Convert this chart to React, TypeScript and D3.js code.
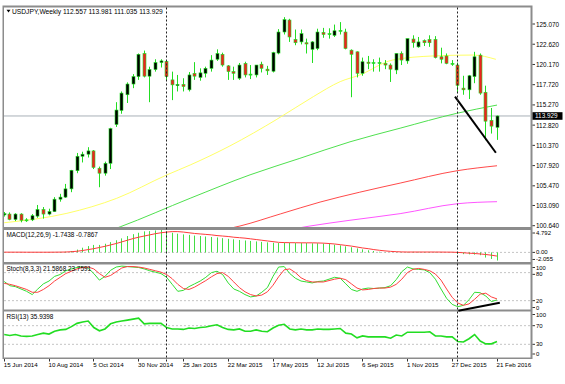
import React from "react"
import * as d3 from "d3"

const W = 565
const H = 384

// weekly USDJPY bars, 15 Jun 2014 .. 21 Feb 2016
const opens = [101.95, 102.05, 101.4, 102.05, 101.3, 101.35, 101.8, 102.6, 102.05, 102.35, 103.85, 104.1, 105.1, 107.3, 109.05, 109.3, 109.7, 107.6, 107.0, 108.2, 112.9, 114.6, 116.5, 117.8, 118.7, 121.5, 118.75, 119.55, 120.4, 120.55, 118.3, 117.6, 117.75, 117.1, 119.1, 118.6, 119.1, 119.7, 120.8, 121.4, 120.0, 119.3, 118.5, 120.3, 118.95, 118.9, 120.2, 119.6, 119.35, 121.55, 124.1, 125.55, 123.2, 122.9, 122.8, 122.0, 122.1, 124.05, 123.8, 123.7, 124.2, 124.1, 121.9, 121.7, 119.1, 120.45, 120.3, 120.4, 120.3, 120.1, 119.5, 121.5, 120.6, 123.25, 122.3, 123.05, 123.2, 123.2, 121.1, 121.2, 120.3, 120.1, 117.3, 117.1, 118.7, 121.3, 116.8, 113.4, 112.557]
const highs = [102.3, 102.25, 102.15, 102.15, 101.55, 102.05, 103.15, 102.9, 102.7, 104.1, 104.5, 105.7, 107.4, 109.45, 109.6, 110.15, 109.8, 107.8, 108.4, 112.5, 115.6, 116.9, 118.0, 119.0, 121.5, 121.85, 119.9, 120.8, 120.8, 120.7, 119.3, 118.9, 118.5, 119.25, 120.45, 119.7, 119.9, 121.3, 122.0, 121.6, 120.1, 119.9, 120.35, 120.5, 120.1, 120.1, 120.5, 120.0, 121.7, 124.45, 125.9, 125.7, 124.4, 124.4, 123.3, 123.0, 124.5, 124.6, 124.55, 125.0, 125.3, 124.5, 122.0, 121.75, 121.0, 121.2, 120.8, 121.0, 120.7, 120.3, 121.5, 121.75, 123.3, 123.7, 123.5, 123.2, 123.7, 123.6, 122.2, 121.5, 120.7, 120.4, 118.8, 118.9, 121.7, 121.5, 117.6, 114.9, 113.981]
const lows = [101.75, 101.3, 101.2, 101.05, 101.1, 101.2, 101.6, 101.5, 101.9, 102.3, 103.55, 104.0, 104.7, 107.0, 108.3, 108.9, 107.5, 105.3, 106.7, 107.5, 112.6, 114.2, 115.5, 117.3, 118.3, 118.6, 115.6, 119.3, 119.8, 118.3, 115.85, 116.9, 116.9, 116.9, 118.3, 118.2, 118.6, 119.3, 120.6, 119.9, 118.3, 118.3, 118.3, 118.6, 118.4, 118.6, 119.2, 118.9, 119.2, 121.4, 123.8, 122.9, 122.5, 122.6, 121.5, 120.35, 121.9, 123.4, 123.3, 123.5, 123.8, 122.0, 116.2, 118.6, 118.8, 119.6, 119.3, 119.3, 119.6, 118.05, 119.0, 120.1, 120.25, 122.2, 122.2, 122.4, 122.3, 120.9, 120.3, 120.2, 120.0, 116.7, 116.5, 115.98, 117.9, 116.5, 111.0, 111.8, 111.035]
const closes = [102.1, 101.4, 102.05, 101.3, 101.35, 101.85, 102.6, 102.05, 102.35, 103.85, 104.1, 105.1, 107.35, 109.05, 109.3, 109.7, 107.7, 107.0, 108.2, 112.4, 114.65, 116.7, 117.8, 118.7, 121.4, 118.75, 119.55, 120.4, 120.6, 118.7, 117.7, 117.75, 117.5, 118.9, 118.75, 119.15, 119.7, 120.7, 121.5, 120.1, 119.3, 119.1, 120.1, 118.9, 119.0, 120.1, 119.7, 119.4, 121.6, 124.1, 125.6, 123.5, 122.8, 123.9, 122.65, 122.9, 124.1, 123.8, 123.9, 124.25, 124.3, 122.1, 121.4, 119.1, 120.5, 120.3, 120.4, 120.3, 120.1, 119.6, 121.5, 120.7, 123.3, 122.8, 122.9, 122.8, 122.8, 121.0, 120.8, 120.3, 120.2, 117.65, 117.1, 118.8, 121.1, 116.7, 113.3, 112.7, 113.929]

// moving averages as [bar, price]
const maYellow: [number, number][] = [[0, 101.0], [11.2, 102.14], [20.1, 103.96], [29, 106.78], [33.2, 107.99], [40.3, 110.3], [48.7, 113.53], [55.2, 116.27], [60, 118.09], [63.5, 118.9], [69.4, 120.71], [76.6, 121.2], [83.7, 121.31], [87.8, 120.79]]
const maGreen: [number, number][] = [[17, 99.6], [20.7, 100.5], [33.2, 103.96], [43.9, 106.8], [52.8, 108.8], [61.75, 110.8], [70.7, 112.45], [80.8, 114.25], [88, 115.25]]
const maRed: [number, number][] = [[38, 100.0], [42.1, 100.6], [49.3, 102.06], [56.4, 103.5], [63.5, 104.7], [70.7, 105.8], [80.9, 107.3], [88, 107.9]]
const maMagenta: [number, number][] = [[52, 100.3], [54.6, 100.6], [61.75, 101.3], [70.7, 102.1], [80.9, 103.3], [88, 103.55]]

const trendMain: [number, number][] = [[80.5, 116.27], [87.8, 109.48]]
const trendStoch: [number, number][] = [[81.1, -1.5], [88.5, 15.6]]

const macdMain = [0.05, 0.04, 0.03, 0.02, 0.01, 0.01, 0.02, 0.03, 0.03, 0.06, 0.1, 0.15, 0.3, 0.6, 1.0, 1.35, 1.6, 1.6, 1.85, 2.2, 2.6, 3.0, 3.5, 3.9, 4.2, 4.5, 4.55, 4.7, 4.79, 4.5, 4.2, 4.0, 3.85, 3.75, 3.6, 3.5, 3.4, 3.3, 3.2, 3.05, 2.9, 2.8, 2.65, 2.55, 2.45, 2.35, 2.25, 2.15, 2.05, 2.0, 2.05, 2.05, 2.0, 2.0, 2.0, 1.95, 1.95, 1.9, 1.8, 1.65, 1.5, 1.3, 1.1, 0.85, 0.65, 0.45, 0.3, 0.15, 0.05, 0.02, 0.04, 0.05, 0.1, 0.12, 0.12, 0.1, 0.1, 0.08, 0.05, 0.03, 0.02, -0.3, -0.38, -0.42, -0.48, -0.6, -1.1, -1.4, -1.7438]
const macdSignal = [0.05, 0.05, 0.05, 0.05, 0.04, 0.04, 0.04, 0.04, 0.04, 0.05, 0.06, 0.08, 0.15, 0.25, 0.4, 0.6, 0.8, 1.05, 1.3, 1.6, 1.9, 2.25, 2.6, 2.95, 3.25, 3.5, 3.75, 4.0, 4.2, 4.35, 4.45, 4.45, 4.35, 4.2, 4.05, 3.95, 3.85, 3.75, 3.6, 3.5, 3.4, 3.25, 3.15, 3.05, 2.9, 2.75, 2.6, 2.45, 2.3, 2.15, 2.1, 2.08, 2.07, 2.05, 2.05, 2.05, 2.02, 1.98, 1.9, 1.8, 1.65, 1.5, 1.35, 1.15, 0.95, 0.8, 0.6, 0.45, 0.32, 0.22, 0.15, 0.1, 0.08, 0.08, 0.08, 0.08, 0.08, 0.08, 0.07, 0.06, 0.05, 0.0, -0.08, -0.16, -0.24, -0.33, -0.45, -0.6, -0.7867]

const stochK = [61, 52, 50, 45, 40, 33, 45, 56, 62, 72, 76, 84, 88, 91, 92, 90, 78, 64, 72, 85, 92, 94, 93, 92, 91, 88, 84, 81, 78, 70, 55, 40, 42, 50, 56, 62, 70, 80, 83, 76, 58, 45, 40, 33, 28, 30, 38, 48, 72, 92, 93, 78, 68, 62, 60, 58, 61, 62, 66, 70, 68, 56, 44, 40, 45, 47, 46, 47, 48, 52, 65, 82, 92, 88, 87, 86, 80, 66, 45, 25, 12, 7, 10, 22, 38, 37, 30, 18, 21.5868]
const stochD = [57, 55, 52, 48, 44, 38, 38, 44, 52, 62, 70, 78, 83, 88, 91, 92, 88, 78, 70, 74, 82, 90, 93, 93, 92, 90, 87, 84, 81, 76, 67, 55, 46, 44, 49, 56, 63, 71, 78, 80, 72, 60, 48, 39, 33, 30, 32, 39, 53, 71, 86, 88, 80, 69, 63, 60, 60, 60, 63, 66, 68, 65, 56, 47, 43, 44, 46, 47, 47, 49, 55, 66, 80, 87, 89, 87, 84, 77, 64, 45, 27, 15, 10, 13, 23, 34, 36, 28, 23.7591]
const rsi = [51, 49, 51, 48, 47, 48, 51, 54, 52, 58, 61, 62, 68, 75, 78, 80, 66, 59, 63, 74, 78, 80, 82, 84, 86, 74, 75, 75, 75, 66, 63, 63, 62, 65, 64, 66, 67, 70, 72, 66, 62, 61, 63, 58, 58, 61, 58, 57, 65, 71, 73, 63, 61, 63, 61, 61, 63, 62, 62, 63, 64, 54, 52, 44, 48, 46, 46, 46, 46, 43, 50, 48, 56, 56, 56, 56, 57, 48, 48, 46, 46, 36, 35, 42, 51, 37, 31, 31, 35.9398]

const dateLabels = ["15 Jun 2014", "10 Aug 2014", "5 Oct 2014", "30 Nov 2014", "25 Jan 2015", "22 Mar 2015", "17 May 2015", "12 Jul 2015", "6 Sep 2015", "1 Nov 2015", "27 Dec 2015", "21 Feb 2016"]
const priceTicks = [125.07, 122.62, 120.17, 117.72, 115.27, 112.82, 110.37, 107.92, 105.47, 103.09, 100.64]
const macdTicks = [4.792, 0, -2.055]
const macdTickText = ["4.792", "0.00", "-2.055"]
const stochTicks = [100, 80, 20, 0]
const rsiTicks = [100, 70, 30, 0]
const yearStarts = [29, 81]

const lastPrice = 113.929
const GREEN = "#22dd22"
const RED = "#ee2222"
const FONT = '"Liberation Sans", Arial, sans-serif'

const L = 4
const R = 530.5
const main = { top: 7.5, bottom: 227 }
const macdP = { top: 230, bottom: 262 }
const stochP = { top: 264.5, bottom: 309.5 }
const rsiP = { top: 311.5, bottom: 357.5 }

const x = d3.scaleLinear().domain([0, 88]).range([4.2, 497])
const yMain = d3.scaleLinear().domain([100.64, 125.07]).range([225.7, 24])
const yMacd = d3.scaleLinear().domain([-2.055, 4.792]).range([262, 230])
const yStoch = d3.scaleLinear().domain([0, 100]).range([310, 263.3])
const yRsi = d3.scaleLinear().domain([0, 100]).range([358.3, 311.7])

// label positions: keep inside the panel, then push apart so they never collide
function labelYs(ticks: number[], scale: (v: number) => number, p: { top: number; bottom: number } | null, gap: number) {
  const out: number[] = []
  ticks.forEach((t, i) => {
    let yy = scale(t)
    if (p) yy = Math.max(p.top + 3, Math.min(p.bottom - 3.5, yy))
    if (i > 0 && yy - out[i - 1] < gap) yy = out[i - 1] + gap
    out.push(yy)
  })
  return out
}

function RightLabels({ ticks, texts, scale, panel, size }: any) {
  const ys = labelYs(ticks, scale, panel, size * 1.18)
  return (
    <g>
      {ticks.map((t: number, i: number) => (
        <g key={i}>
          <line x1={532.5} x2={535} y1={ys[i]} y2={ys[i]} stroke="#000" strokeWidth={0.8} />
          <text x={536} y={ys[i]} dominantBaseline="central" fontSize={size} fill="#000">
            {texts[i]}
          </text>
        </g>
      ))}
    </g>
  )
}

export default function App() {
  const maLine = d3
    .line<[number, number]>()
    .x((d) => x(d[0]))
    .y((d) => yMain(d[1]))
    .curve(d3.curveMonotoneX)
  const seriesLine = (scale: d3.ScaleLinear<number, number>) =>
    d3
      .line<number>()
      .x((_, i) => x(i))
      .y((v) => scale(v))

  const fmt = d3.format(".3f")

  return (
    <svg
      width={W}
      height={H}
      style={{ position: "absolute", left: 0, top: 0, background: "#fff" }}
      fontFamily={FONT}
    >
      <defs>
        <clipPath id="cMain">
          <rect x={L} y={main.top} width={R - L} height={main.bottom - main.top} />
        </clipPath>
        <clipPath id="cMacd">
          <rect x={L} y={macdP.top} width={R - L} height={macdP.bottom - macdP.top} />
        </clipPath>
        <clipPath id="cStoch">
          <rect x={L} y={stochP.top} width={R - L} height={stochP.bottom - stochP.top} />
        </clipPath>
        <clipPath id="cRsi">
          <rect x={L} y={rsiP.top} width={R - L} height={rsiP.bottom - rsiP.top} />
        </clipPath>
      </defs>

      {/* frames */}
      <rect x={2.5} y={5.5} width={530} height={353.5} fill="#8c8c8c" />
      {[main, macdP, stochP, rsiP].map((p, i) => (
        <rect key={i} x={L} y={p.top} width={R - L} height={p.bottom - p.top} fill="#fff" />
      ))}

      {/* indicator grid lines */}
      <g stroke="#c4c4c4" strokeDasharray="2,2" strokeWidth={1}>
        <line x1={L} x2={R} y1={yMacd(0)} y2={yMacd(0)} />
        {[80, 20].map((v) => (
          <line key={v} x1={L} x2={R} y1={yStoch(v)} y2={yStoch(v)} />
        ))}
        {[70, 30].map((v) => (
          <line key={v} x1={L} x2={R} y1={yRsi(v)} y2={yRsi(v)} />
        ))}
      </g>

      {/* main panel */}
      <g clipPath="url(#cMain)">
        <line x1={L} x2={R} y1={yMain(lastPrice)} y2={yMain(lastPrice)} stroke="#a9b0b8" strokeWidth={1} />
        <path d={maLine(maMagenta) ?? ""} fill="none" stroke="#ff55ff" strokeWidth={1} />
        <path d={maLine(maRed) ?? ""} fill="none" stroke="#ff4a4a" strokeWidth={1} />
        <path d={maLine(maGreen) ?? ""} fill="none" stroke="#4fe04f" strokeWidth={1} />
        <path d={maLine(maYellow) ?? ""} fill="none" stroke="#ffff66" strokeWidth={1} />
        {opens.map((o, i) => {
          const c = closes[i]
          const px = Math.floor(x(i))
          const top = yMain(Math.max(o, c))
          const bot = yMain(Math.min(o, c))
          return (
            <g key={i}>
              <line x1={px + 0.5} x2={px + 0.5} y1={yMain(highs[i])} y2={yMain(lows[i])} stroke={GREEN} strokeWidth={1} />
              <rect
                x={px - 1}
                y={top}
                width={3}
                height={Math.max(1, bot - top)}
                fill={bot - top < 1 ? GREEN : c >= o ? "#000" : RED}
                stroke={GREEN}
                strokeWidth={0.6}
              />
            </g>
          )
        })}
        <line
          x1={x(trendMain[0][0])}
          y1={yMain(trendMain[0][1])}
          x2={x(trendMain[1][0])}
          y2={yMain(trendMain[1][1])}
          stroke="#000"
          strokeWidth={2}
        />
      </g>

      {/* MACD */}
      <g clipPath="url(#cMacd)">
        {macdMain.map((v, i) => (
          <line
            key={i}
            x1={Math.floor(x(i)) + 0.5}
            x2={Math.floor(x(i)) + 0.5}
            y1={yMacd(0)}
            y2={yMacd(v)}
            stroke="#44dd44"
            strokeWidth={1}
          />
        ))}
        <path d={seriesLine(yMacd)(macdSignal) ?? ""} fill="none" stroke="#ff3b3b" strokeWidth={1} />
      </g>

      {/* Stoch */}
      <g clipPath="url(#cStoch)">
        <path d={seriesLine(yStoch)(stochK) ?? ""} fill="none" stroke="#33dd33" strokeWidth={1} />
        <path d={seriesLine(yStoch)(stochD) ?? ""} fill="none" stroke="#ff4040" strokeWidth={1} />
      </g>
      <line
        x1={x(trendStoch[0][0])}
        y1={yStoch(trendStoch[0][1])}
        x2={x(trendStoch[1][0])}
        y2={yStoch(trendStoch[1][1])}
        stroke="#000"
        strokeWidth={2}
      />

      {/* RSI */}
      <g clipPath="url(#cRsi)">
        <path d={seriesLine(yRsi)(rsi) ?? ""} fill="none" stroke="#22dd22" strokeWidth={1.6} />
      </g>

      {/* year separators */}
      {yearStarts.map((b) => (
        <line
          key={b}
          x1={Math.floor(x(b)) + 0.5}
          x2={Math.floor(x(b)) + 0.5}
          y1={main.top}
          y2={362}
          stroke="#222"
          strokeWidth={1}
          strokeDasharray="2,2"
        />
      ))}

      {/* labels */}
      <path d="M6.5,9.8 L10.5,9.8 L8.5,12.6 Z" fill="#000" />
      <text x={12} y={11.5} dominantBaseline="central" fontSize={6.7} fill="#000">
        USDJPY,Weekly 112.557 113.981 111.035 113.929
      </text>
      <text x={6.5} y={234} dominantBaseline="central" fontSize={6.4} fill="#000">
        MACD(12,26,9) -1.7438 -0.7867
      </text>
      <text x={6.5} y={268.5} dominantBaseline="central" fontSize={6.4} fill="#000">
        Stoch(8,3,3) 21.5868 23.7591
      </text>
      <text x={6.5} y={316} dominantBaseline="central" fontSize={6.4} fill="#000">
        RSI(13) 35.9398
      </text>

      <RightLabels ticks={priceTicks} texts={priceTicks.map(fmt)} scale={yMain} panel={null} size={6.4} />
      <RightLabels ticks={macdTicks} texts={macdTickText} scale={yMacd} panel={macdP} size={6} />
      <RightLabels ticks={stochTicks} texts={stochTicks.map(String)} scale={yStoch} panel={stochP} size={5.8} />
      <RightLabels ticks={rsiTicks} texts={rsiTicks.map(String)} scale={yRsi} panel={rsiP} size={6} />

      <rect x={532.5} y={yMain(lastPrice) - 3.8} width={30} height={7.6} fill="#000" />
      <text x={535} y={yMain(lastPrice)} dominantBaseline="central" fontSize={6.4} fill="#fff">
        {fmt(lastPrice)}
      </text>

      {dateLabels.map((d, i) => (
        <g key={d}>
          <line x1={Math.floor(x(i * 8)) + 0.5} x2={Math.floor(x(i * 8)) + 0.5} y1={359} y2={361.5} stroke="#000" strokeWidth={0.8} />
          <text x={x(i * 8) - 0.5} y={364.5} dominantBaseline="central" fontSize={6.2} fill="#000">
            {d}
          </text>
        </g>
      ))}
    </svg>
  )
}
